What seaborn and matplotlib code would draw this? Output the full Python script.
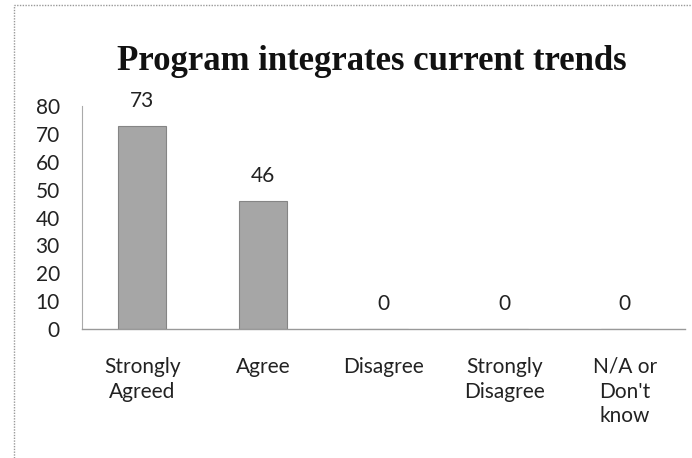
import numpy as np
import pandas as pd
import matplotlib
matplotlib.use("Agg")
import matplotlib.pyplot as plt
import seaborn as sns
from matplotlib.patches import Rectangle

# data
categories = ["Strongly\nAgreed", "Agree", "Disagree", "Strongly\nDisagree", "N/A or\nDon't\nknow"]
counts = [73, 46, 0, 0, 0]
yticks = [0, 10, 20, 30, 40, 50, 60, 70, 80]

sns.set_style("white")
plt.rcParams['font.family'] = ['Lato', 'DejaVu Sans']

df = pd.DataFrame({"cat": categories, "n": counts})

fig = plt.figure(figsize=(6.92, 4.58), dpi=100)
ax = fig.add_axes([82/692, 1 - 329/458, 603/692, (329 - 106)/458])

sns.barplot(data=df, x="cat", y="n", color="#a6a6a6", width=0.4,
            edgecolor="#858585", linewidth=0.8, saturation=1, ax=ax)

for i, v in enumerate(counts):
    ax.annotate(str(v), (i, v), xytext=(0, 18), textcoords='offset points',
                ha='center', va='center', fontsize=15, color='#222222')

ax.set_ylim(0, 80)
ax.set_yticks(yticks)
ax.set_xlim(-0.5, len(categories) - 0.5)
ax.set_xlabel("")
ax.set_ylabel("")
ax.tick_params(axis='y', labelsize=15, length=0, pad=16, labelcolor='#222222')
ax.tick_params(axis='x', labelsize=15, length=0, pad=20, labelcolor='#222222')
for lab in ax.get_xticklabels():
    lab.set_verticalalignment('top')
    lab.set_linespacing(1.3)

for s in ['top', 'right']:
    ax.spines[s].set_visible(False)
ax.spines['left'].set_color('#aaaaaa')
ax.spines['left'].set_linewidth(0.8)
ax.spines['bottom'].set_color('#999999')
ax.spines['bottom'].set_linestyle((0, (1, 1)))
ax.spines['bottom'].set_linewidth(1.0)

fig.text(372/692, 1 - 61/458, "Program integrates current trends", ha='center', va='center',
         fontsize=25, fontweight='bold', family=['Liberation Serif', 'DejaVu Serif'], color='#111111')

# scanned chart border (left and top only visible)
fig.add_artist(Rectangle((14/692, -0.05), 1.2, 1 - 5/458 + 0.05, transform=fig.transFigure,
                         fill=False, edgecolor='#999999', linewidth=1.0, linestyle=(0, (1, 1))))

fig.savefig("out.png", dpi=100, facecolor='white')
